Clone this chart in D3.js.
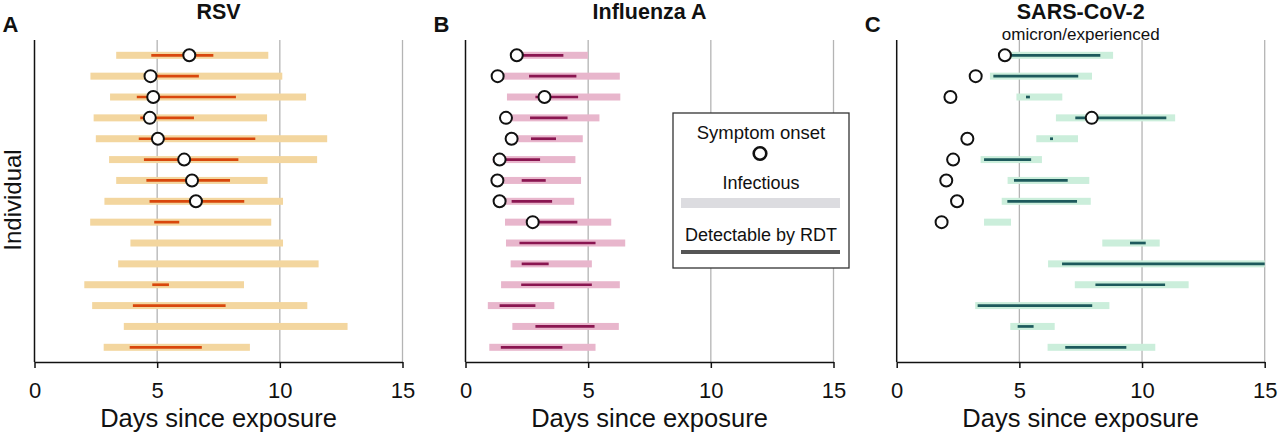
<!DOCTYPE html>
<html>
<head>
<meta charset="utf-8">
<script src="https://cdn.jsdelivr.net/npm/d3@7"></script>
<style>
  html, body { margin: 0; padding: 0; background: #fff; }
  svg { display: block; font-family: "Liberation Sans", Arial, Helvetica, sans-serif; }
</style>
</head>
<body>
<svg id="chart" width="1280" height="436"></svg>
<script>
// ---------------- DATA ----------------
const panelTitles = ["RSV", "Influenza A", "SARS-CoV-2"];
const panelLetters = ["A", "B", "C"];
const panelSubtitles = ["", "", "omicron/experienced"];
const xTicks = [0, 5, 10, 15];
const gridTicks = [5, 10, 15];

// RSV (15 individuals, top to bottom)
const rsvInfStart = [3.33, 2.28, 3.08, 2.41, 2.50, 3.04, 3.33, 2.85, 2.27, 3.91, 3.41, 2.03, 2.35, 3.64, 2.82];
const rsvInfEnd   = [9.53, 10.10, 11.07, 9.48, 11.93, 11.52, 9.50, 10.13, 9.65, 10.13, 11.58, 8.54, 11.12, 12.76, 8.78];
const rsvRdtStart = [4.76, 4.73, 4.17, 4.31, 4.25, 4.46, 4.56, 4.69, 4.88, null, null, 4.80, 4.01, null, 3.88];
const rsvRdtEnd   = [7.29, 6.70, 8.21, 6.50, 9.00, 8.31, 7.97, 8.55, 5.90, null, null, 5.48, 7.79, null, 6.82];
const rsvOnset    = [6.31, 4.73, 4.84, 4.70, 5.03, 6.10, 6.42, 6.58, null, null, null, null, null, null, null];

// Influenza A
const fluInfStart = [2.05, 1.35, 1.69, 1.65, 1.88, 1.11, 1.30, 1.41, 1.61, 1.65, 1.84, 1.45, 0.91, 1.91, 0.97];
const fluInfEnd   = [4.99, 6.29, 6.31, 5.46, 4.78, 4.48, 4.71, 4.43, 5.94, 6.51, 5.15, 6.29, 3.62, 6.25, 5.30];
const fluRdtStart = [2.09, 2.59, 2.85, 2.63, 2.67, 1.39, 2.29, 1.88, 2.74, 2.20, 2.29, 2.27, 1.39, 2.85, 1.44];
const fluRdtEnd   = [3.99, 4.52, 4.59, 4.16, 3.69, 3.04, 3.27, 3.53, 4.56, 5.30, 3.39, 5.15, 2.85, 5.26, 3.95];
const fluOnset    = [2.09, 1.31, 3.22, 1.65, 1.88, 1.39, 1.30, 1.39, 2.74, null, null, null, null, null, null];

// SARS-CoV-2
const covInfStart = [4.41, 3.80, 4.88, 6.49, 5.69, 3.42, 4.52, 4.28, 3.56, 8.38, 6.17, 7.26, 3.20, 4.63, 6.15];
const covInfEnd   = [8.82, 7.96, 6.75, 11.35, 7.39, 5.92, 7.85, 7.91, 4.66, 10.72, 15.5, 11.90, 8.67, 6.44, 10.54];
const covRdtStart = [4.41, 3.94, 5.27, 7.28, 6.25, 3.56, 4.78, 4.51, null, 9.51, 6.74, 8.10, 3.30, 4.93, 6.87];
const covRdtEnd   = [8.30, 7.40, 5.43, 10.99, 6.37, 5.48, 6.97, 7.35, null, 10.15, 15.5, 10.94, 7.97, 5.58, 9.36];
const covOnset    = [4.41, 3.22, 2.19, 7.95, 2.88, 2.30, 2.02, 2.46, 1.83, null, null, null, null, null, null];

const legendLabels = ["Symptom onset", "Infectious", "Detectable by RDT"];

// ---------------- STYLE ----------------
const infColors = ["#F3D69F", "#E8B6CC", "#CBEEDB"];
const rdtColors = ["#D9470C", "#8A1651", "#1D5A5C"];

const panels = [
  { infS: rsvInfStart, infE: rsvInfEnd, rdtS: rsvRdtStart, rdtE: rsvRdtEnd, onset: rsvOnset },
  { infS: fluInfStart, infE: fluInfEnd, rdtS: fluRdtStart, rdtE: fluRdtEnd, onset: fluOnset },
  { infS: covInfStart, infE: covInfEnd, rdtS: covRdtStart, rdtE: covRdtEnd, onset: covOnset }
];

const svg = d3.select("#chart");
const panelLeft = [34.5, 465.5, 896.7];
const panelWidth = 368;
const plotTop = 40, plotBottom = 362;
const nRows = 15;
const y = d3.scalePoint().domain(d3.range(nRows)).range([55.3, 347.3]);

panels.forEach((p, i) => {
  const x = d3.scaleLinear().domain([0, 15]).range([panelLeft[i], panelLeft[i] + panelWidth]).clamp(true);
  const g = svg.append("g");
  const cx = (x(0) + x(15)) / 2;

  // grid lines
  g.selectAll("line.grid").data(gridTicks).join("line")
    .attr("x1", d => x(d)).attr("x2", d => x(d))
    .attr("y1", plotTop).attr("y2", plotBottom)
    .attr("stroke", "#b4b4b4").attr("stroke-width", 1.3);

  const rows = d3.range(nRows);
  // infectious bars
  g.selectAll("rect.inf").data(rows).join("rect")
    .attr("x", d => x(p.infS[d]))
    .attr("width", d => x(p.infE[d]) - x(p.infS[d]))
    .attr("y", d => y(d) - 3.5).attr("height", 7)
    .attr("fill", infColors[i]);

  // RDT lines
  g.selectAll("line.rdt").data(rows.filter(d => p.rdtS[d] != null)).join("line")
    .attr("x1", d => x(p.rdtS[d])).attr("x2", d => x(p.rdtE[d]))
    .attr("y1", d => y(d)).attr("y2", d => y(d))
    .attr("stroke", rdtColors[i]).attr("stroke-width", 2.7);

  // onset circles
  g.selectAll("circle.onset").data(rows.filter(d => p.onset[d] != null)).join("circle")
    .attr("cx", d => x(p.onset[d])).attr("cy", d => y(d)).attr("r", 6)
    .attr("fill", "#fff").attr("stroke", "#111").attr("stroke-width", 2);

  // left axis line
  g.append("line").attr("x1", x(0)).attr("x2", x(0)).attr("y1", plotTop).attr("y2", plotBottom)
    .attr("stroke", "#111").attr("stroke-width", 1.5);

  // bottom axis
  const ax = g.append("g").attr("transform", `translate(0,${plotBottom})`)
    .call(d3.axisBottom(x).tickValues(xTicks).tickSize(6).tickSizeOuter(0).tickFormat(d3.format("d")));
  ax.select(".domain").attr("stroke", "#111").attr("stroke-width", 1.5);
  ax.selectAll(".tick line").attr("stroke", "#111").attr("stroke-width", 1.5);
  ax.selectAll(".tick text").attr("y", 36).attr("dy", 0)
    .attr("font-size", 22).attr("fill", "#111")
    .attr("font-family", "'Liberation Sans', Arial, sans-serif");

  g.append("text").attr("x", cx).attr("y", 427).attr("text-anchor", "middle")
    .attr("font-size", 25.5).attr("fill", "#111").text("Days since exposure");

  g.append("text").attr("x", cx).attr("y", 18.5).attr("text-anchor", "middle")
    .attr("font-size", 21.5).attr("font-weight", "bold").attr("fill", "#111").text(panelTitles[i]);
  if (panelSubtitles[i]) {
    g.append("text").attr("x", cx).attr("y", 39.5).attr("text-anchor", "middle")
      .attr("font-size", 17).attr("fill", "#111").text(panelSubtitles[i]);
  }
  g.append("text").attr("x", x(0) - 32).attr("y", 32)
    .attr("font-size", 22).attr("font-weight", "bold").attr("fill", "#111").text(panelLetters[i]);
});

// y label
svg.append("text").attr("transform", "translate(21,200) rotate(-90)")
  .attr("text-anchor", "middle").attr("font-size", 24).attr("fill", "#111").text("Individual");

// legend (inside panel B)
const lg = svg.append("g");
lg.append("rect").attr("x", 673).attr("y", 113).attr("width", 176).attr("height", 155)
  .attr("fill", "#fff").attr("stroke", "#333").attr("stroke-width", 1.3);
const lcx = 761;
lg.append("text").attr("x", lcx).attr("y", 139).attr("text-anchor", "middle").attr("font-size", 18.5).attr("fill", "#111").text(legendLabels[0]);
lg.append("circle").attr("cx", 760).attr("cy", 153.5).attr("r", 6.3).attr("fill", "#fff").attr("stroke", "#111").attr("stroke-width", 2.6);
lg.append("text").attr("x", lcx).attr("y", 189).attr("text-anchor", "middle").attr("font-size", 18).attr("fill", "#111").text(legendLabels[1]);
lg.append("rect").attr("x", 681).attr("y", 198).attr("width", 159).attr("height", 10).attr("fill", "#DCDCE0");
lg.append("text").attr("x", lcx).attr("y", 241).attr("text-anchor", "middle").attr("font-size", 18).attr("fill", "#111").text(legendLabels[2]);
lg.append("rect").attr("x", 681).attr("y", 250).attr("width", 159).attr("height", 4).attr("fill", "#555");
</script>
</body>
</html>
